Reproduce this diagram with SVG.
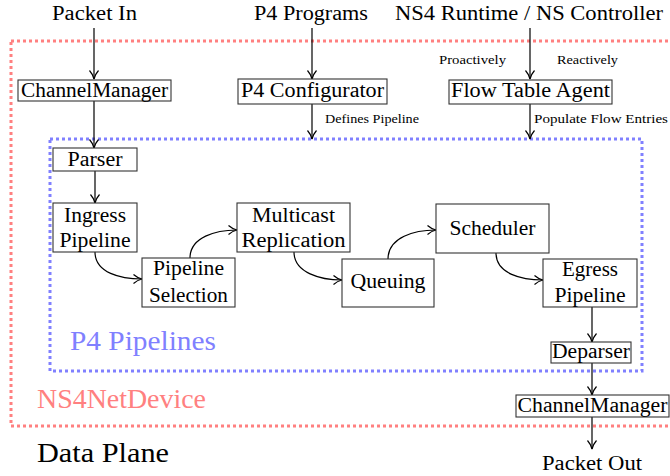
<svg xmlns="http://www.w3.org/2000/svg" width="670" height="476" viewBox="0 0 670 476">
<style>
text{font-family:'Liberation Serif','Times New Roman',serif;fill:#000}
.t{font-size:20px;text-anchor:middle}
.s{font-size:12px}
.l{font-size:27px}
.box{fill:#fff;stroke:#333;stroke-width:1.1}
.c{fill:none;stroke:#000;stroke-width:1.2;marker-end:url(#ah)}
</style>
<defs>
<marker id="ah" viewBox="0 0 10 10" refX="9.5" refY="5" markerWidth="10" markerHeight="10" markerUnits="userSpaceOnUse" orient="auto">
<path d="M1,0.5 Q5,4 9.5,5 Q5,6 1,9.5" fill="none" stroke="#000" stroke-width="1.2"/>
</marker>
</defs>
<rect x="11" y="41" width="670" height="385" fill="none" stroke="#ff8080" stroke-width="3" stroke-dasharray="3 3"/>
<rect x="50" y="139" width="592" height="232" fill="none" stroke="#8080ff" stroke-width="3" stroke-dasharray="3 3"/>
<text class="l" x="70" y="350" style="fill:#8080ff" textLength="146" lengthAdjust="spacingAndGlyphs">P4 Pipelines</text>
<text class="l" x="37" y="408" style="fill:#ff8080" textLength="169" lengthAdjust="spacingAndGlyphs">NS4NetDevice</text>
<text class="l" x="37" y="462" textLength="132" lengthAdjust="spacingAndGlyphs">Data Plane</text>
<text class="t" x="94.5" y="20" textLength="85" lengthAdjust="spacingAndGlyphs">Packet In</text>
<text class="t" x="311" y="20" textLength="114" lengthAdjust="spacingAndGlyphs">P4 Programs</text>
<text class="t" x="529" y="20" textLength="268" lengthAdjust="spacingAndGlyphs">NS4 Runtime / NS Controller</text>
<text class="t" x="592" y="470" textLength="100" lengthAdjust="spacingAndGlyphs">Packet Out</text>
<g id="connectors">
<path class="c" d="M94,28 V79"/>
<path class="c" d="M312,28 V79"/>
<path class="c" d="M530,28 V79"/>
<path class="c" d="M94,101 V148"/>
<path class="c" d="M312,104 V139"/>
<path class="c" d="M530,104 V139"/>
<path class="c" d="M95,171 V203"/>
<path class="c" d="M95,252 C95,273 121,279 142,279"/>
<path class="c" d="M190,258 C190,237 216,230 237,230"/>
<path class="c" d="M294,252 C294,273 321,280 342,280"/>
<path class="c" d="M388,259 C388,237 415,230 436,230"/>
<path class="c" d="M496,253 C496,274 522,280 543,280"/>
<path class="c" d="M592,307 V342"/>
<path class="c" d="M592,363 V395"/>
<path class="c" d="M592,417 V449"/>
<text class="s" x="325" y="123" textLength="94" lengthAdjust="spacingAndGlyphs">Defines Pipeline</text>
<text class="s" x="439" y="64" textLength="67" lengthAdjust="spacingAndGlyphs">Proactively</text>
<text class="s" x="557" y="64" textLength="61" lengthAdjust="spacingAndGlyphs">Reactively</text>
<text class="s" x="534" y="123" textLength="134" lengthAdjust="spacingAndGlyphs">Populate Flow Entries</text>
</g>
<g id="channelmanager-in"><rect class="box" x="18" y="80" width="153" height="21"/><text class="t" x="94.5" y="96.5" textLength="147" lengthAdjust="spacingAndGlyphs">ChannelManager</text></g>
<g id="p4-configurator"><rect class="box" x="238" y="79" width="149" height="25"/><text class="t" x="312.5" y="97" textLength="143" lengthAdjust="spacingAndGlyphs">P4 Configurator</text></g>
<g id="flow-table-agent"><rect class="box" x="449" y="80" width="163" height="24"/><text class="t" x="530.5" y="97" textLength="159" lengthAdjust="spacingAndGlyphs">Flow Table Agent</text></g>
<g id="parser"><rect class="box" x="53" y="148" width="84" height="23"/><text class="t" x="95" y="166" textLength="55" lengthAdjust="spacingAndGlyphs">Parser</text></g>
<g id="ingress"><rect class="box" x="53" y="203" width="84" height="49"/><text class="t" x="95" y="221.5" textLength="62" lengthAdjust="spacingAndGlyphs">Ingress</text><text class="t" x="95" y="247" textLength="71" lengthAdjust="spacingAndGlyphs">Pipeline</text></g>
<g id="pipeline-selection"><rect class="box" x="142" y="258" width="93" height="49"/><text class="t" x="188.5" y="275" textLength="71" lengthAdjust="spacingAndGlyphs">Pipeline</text><text class="t" x="188.5" y="301.5" textLength="79" lengthAdjust="spacingAndGlyphs">Selection</text></g>
<g id="multicast"><rect class="box" x="237" y="203" width="113" height="49"/><text class="t" x="293.5" y="222" textLength="83" lengthAdjust="spacingAndGlyphs">Multicast</text><text class="t" x="293.5" y="247" textLength="104" lengthAdjust="spacingAndGlyphs">Replication</text></g>
<g id="queuing"><rect class="box" x="342" y="259" width="92" height="48"/><text class="t" x="388" y="288" textLength="75" lengthAdjust="spacingAndGlyphs">Queuing</text></g>
<g id="scheduler"><rect class="box" x="436" y="204" width="113" height="49"/><text class="t" x="492.5" y="235" textLength="86" lengthAdjust="spacingAndGlyphs">Scheduler</text></g>
<g id="egress"><rect class="box" x="543" y="259" width="94" height="48"/><text class="t" x="590" y="276" textLength="56" lengthAdjust="spacingAndGlyphs">Egress</text><text class="t" x="590" y="302" textLength="71" lengthAdjust="spacingAndGlyphs">Pipeline</text></g>
<g id="deparser"><rect class="box" x="551" y="342" width="80" height="21"/><text class="t" x="591" y="358" textLength="78" lengthAdjust="spacingAndGlyphs">Deparser</text></g>
<g id="channelmanager-out"><rect class="box" x="516" y="395" width="153" height="22"/><text class="t" x="592.5" y="412" textLength="150" lengthAdjust="spacingAndGlyphs">ChannelManager</text></g>
</svg>
